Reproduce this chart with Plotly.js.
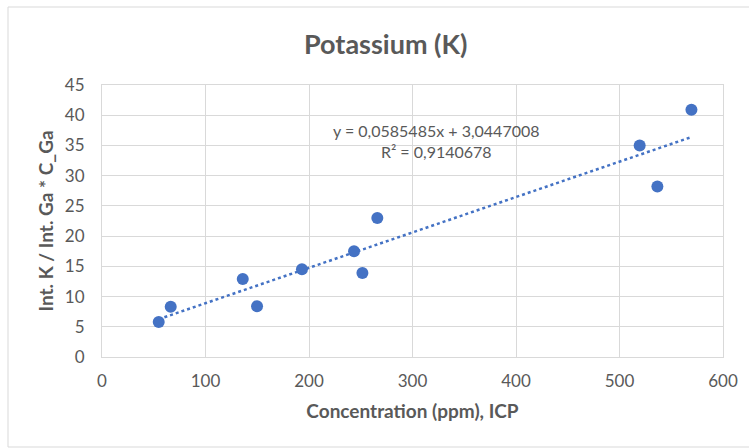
<!DOCTYPE html>
<html>
<head>
<meta charset="utf-8">
<script src="https://cdn.plot.ly/plotly-3.0.1.min.js"></script>
<style>html,body{margin:0;padding:0;background:#fff;}#chart{width:749px;height:448px;}</style>
</head>
<body>
<div id="chart"></div>
<script>
// Data
var concentration = [54.8, 66.4, 136, 149.8, 193.2, 243.5, 251.6, 266, 519.5, 536.6, 569.5];
var ratio = [5.8, 8.3, 12.9, 8.4, 14.5, 17.5, 13.9, 23.0, 35.0, 28.2, 40.9];
var trendSlope = 0.0585485;
var trendIntercept = 3.0447008;
var trendLabel = "y = 0,0585485x + 3,0447008<br>R² = 0,9140678";
var xTicks = [0, 100, 200, 300, 400, 500, 600];
var yTicks = [0, 5, 10, 15, 20, 25, 30, 35, 40, 45];

var xMin = Math.min.apply(null, concentration);
var xMax = Math.max.apply(null, concentration);
var trendX = [xMin, xMax];
var trendY = trendX.map(function (x) { return trendSlope * x + trendIntercept; });

var font = "Lato, 'Open Sans', sans-serif";
var grey = "#595959";

var traces = [
  {
    x: trendX, y: trendY, mode: "lines", type: "scatter",
    line: {color: "#4472c4", width: 2.5, dash: "dot"}, hoverinfo: "skip"
  },
  {
    x: concentration, y: ratio, mode: "markers", type: "scatter",
    marker: {color: "#4472c4", size: 12, line: {width: 0}}
  }
];

var layout = {
  width: 749, height: 448,
  margin: {l: 102, r: 26, t: 85, b: 91},
  paper_bgcolor: "#fff", plot_bgcolor: "#fff",
  showlegend: false,
  title: {text: "<b>Potassium (K)</b>", font: {family: font, size: 27, color: grey}, x: 0.515, xanchor: "center", y: 0.9, yanchor: "middle"},
  xaxis: {
    range: [0, 600], tickvals: xTicks, ticktext: xTicks.map(String),
    showgrid: true, gridcolor: "#d9d9d9", gridwidth: 1,
    zeroline: false, showline: true, linecolor: "#d9d9d9", mirror: true,
    ticks: "", ticklen: 0, ticklabelstandoff: 9,
    tickfont: {family: font, size: 17, color: grey},
    title: {text: "<b>Concentration (ppm), ICP</b>", font: {family: font, size: 19, color: grey}, standoff: 14}
  },
  yaxis: {
    range: [0, 45], tickvals: yTicks, ticktext: yTicks.map(String),
    showgrid: true, gridcolor: "#d9d9d9", gridwidth: 1,
    zeroline: false, showline: true, linecolor: "#d9d9d9", mirror: true,
    ticks: "", ticklen: 0, ticklabelstandoff: 13,
    tickfont: {family: font, size: 17, color: grey},
    title: {text: "<b>Int. K / Int. Ga * C_Ga</b>", font: {family: font, size: 19, color: grey}, standoff: 6}
  },
  annotations: [{
    x: 323.4, y: 35.75, xref: "x", yref: "y", text: trendLabel, showarrow: false,
    align: "center", font: {family: font, size: 16, color: grey}
  }],
  shapes: [{
    type: "rect", xref: "paper", yref: "paper",
    x0: (8 - 102) / 621, x1: (760 - 102) / 621,
    y0: (357 - 447) / 272, y1: (357 - 7) / 272,
    line: {color: "#d9d9d9", width: 1}, fillcolor: "rgba(0,0,0,0)", layer: "below"
  }]
};

Plotly.newPlot("chart", traces, layout, {displayModeBar: false, staticPlot: true});
</script>
</body>
</html>
